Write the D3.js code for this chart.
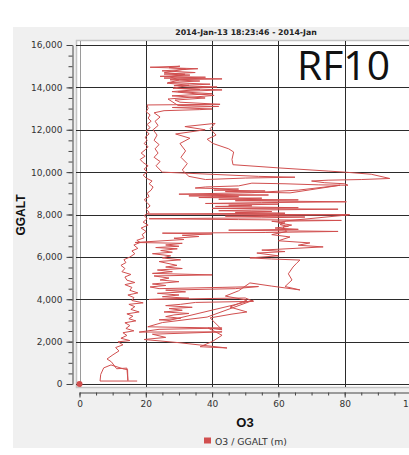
<!DOCTYPE html>
<html>
<head>
<meta charset="utf-8">
<script src="https://cdn.jsdelivr.net/npm/d3@7"></script>
<style>
	body { margin: 0; background: #fff; }
	svg { display: block; }
</style>
</head>
<body>
<div id="chart"></div>
<script>
//Flight legs, each point is [O3, GGALT (m)]

	//Takeoff and climb on the left edge
	var climbLow = [[17.4,140],[6.2,140],[6.4,450],[7.3,760],[9.5,900],[13.5,700],[14.5,680],[14.6,160],[14.3,750],[11.2,720],[9.6,1050],[8.3,1180],[10.1,1380],[11.9,1560],[10.9,1720],[13.1,1850],[11.6,1990],[15.2,2050],[12.5,2160],[14.3,2290],[13.1,2420],[16.4,2510],[14.0,2620],[15.2,2760],[13.7,2890],[17.0,2980],[14.9,3080],[16.1,3200],[14.3,3310],[18.0,3400],[15.5,3520],[16.7,3650],[14.9,3760],[19.2,3830],[15.8,3940],[16.4,4080],[14.6,4200],[17.6,4300],[15.2,4420],[15.8,4560],[13.7,4690],[16.7,4790],[14.3,4900],[13.7,5050],[15.5,5170],[12.8,5300],[13.7,5450],[12.5,5600],[14.0,5730],[13.4,5870],[15.2,5990]];

	var climbHigh = [[16.7,6150],[15.8,6280],[17.6,6400],[16.4,6560],[18.3,6680],[17.3,6780],[19.5,6900],[18.9,7050],[20.1,7200],[18.6,7360],[20.7,7500],[19.2,7640],[20.4,7800],[19.5,7950],[21.0,8100],[20.1,8250],[21.3,8400],[20.4,8560],[19.5,8700],[21.0,8850],[20.4,9000],[21.6,9150],[22.2,9300],[21.0,9450],[21.9,9580],[20.1,9720],[19.2,9860],[20.4,10000],[19.5,10150],[20.7,10300],[19.2,10450],[18.3,10600],[19.8,10750],[18.6,10900],[19.8,11050],[20.7,11200],[19.5,11350],[20.4,11500],[19.8,11650],[21.0,11800],[20.1,11950],[21.3,12100],[20.4,12250],[21.6,12400],[20.7,12550],[21.3,12700],[20.1,12850],[20.7,13000],[20.4,13170],[42.4,13200],[30.3,13300]];

	//Top of the flight
	var topCluster = [[28.8,13400],[37.9,13500],[27.9,13600],[40.0,13700],[29.7,13800],[43.0,13880],[30.3,13950],[41.5,14020],[28.5,14080],[39.4,14150],[26.7,14230],[36.3,14300],[27.3,14360],[43.0,14400],[25.5,14440],[38.0,14480],[24.3,14520],[33.3,14580],[25.5,14630],[34.9,14700],[24.9,14780],[35.7,14880],[21.3,14950],[30.3,15000],[27.0,14930],[32.0,14870]];

	var upperDescent = [[25.6,14700],[31.8,14620],[27.3,14500],[30.0,14350],[26.4,14200],[33.0,14100],[28.2,13960],[36.3,13900],[27.9,13800],[40.6,13620],[26.7,13450],[29.7,13150],[42.0,13100],[28.0,13050],[40.0,12980],[36.3,12950],[25.5,12900],[22.5,12800],[24.3,12600],[22.8,12400],[23.7,12200],[22.2,12000],[23.4,11750],[22.5,11500],[24.0,11300],[22.8,11100],[23.7,10900],[22.5,10700],[24.3,10500],[23.1,10300],[24.0,10150],[25.0,10000],[54.0,9800],[65.0,9760],[50.0,9720],[38.0,9650],[33.0,9800],[31.0,10100],[32.5,10400],[30.6,10700],[32.0,11000],[30.3,11350],[33.3,11600],[29.0,11800],[37.9,12000],[31.8,12150],[40.9,12300],[39.4,12050],[41.2,11750],[38.5,11550],[40.3,11350],[45.0,11100],[46.5,10950],[46.0,10600],[46.3,10350],[60.0,10200],[75.0,10050],[80.0,10000],[88.0,9900],[93.6,9700],[85.0,9650],[75.0,9620],[70.0,9580],[74.0,9500],[80.0,9450],[81.0,9380],[72.0,9400],[62.0,9450],[52.0,9480],[48.0,9350],[38.0,9300],[34.9,9250]];

	//Dense band between 7,000 and 9,300 m
	var midBand = [[48.0,9200],[40.5,9150],[56.0,9110],[44.0,9080],[63.5,9020],[78.6,9380],[66.0,9150],[52.0,9030],[30.0,8960],[57.0,8920],[33.0,8880],[48.0,8840],[36.0,8800],[55.0,8770],[42.0,8720],[66.0,8690],[47.0,8650],[80.5,8600],[55.0,8560],[38.0,8520],[60.0,8490],[45.0,8440],[52.0,8410],[41.0,8380],[66.0,8320],[40.0,8290],[78.0,8250],[52.0,8210],[42.0,8180],[58.0,8140],[47.0,8100],[62.0,8060],[20.5,8020],[81.5,7990],[60.0,7960],[44.0,7920],[68.0,7880],[55.0,7840],[21.0,7800],[48.0,7760],[79.0,7720],[58.0,7680],[62.0,7600],[60.5,7520],[63.0,7440],[59.0,7360],[66.0,7300],[45.0,7260],[78.0,7200],[56.0,7150],[25.0,7120],[40.0,7080],[31.0,7020],[36.0,6960]];

	var lowerCenter = [[28.5,6880],[31.5,6820],[16.8,6680],[31.0,6640],[26.0,6560],[30.0,6500],[23.0,6440],[29.5,6380],[24.5,6300],[28.0,6220],[22.0,6150],[27.5,6050],[25.0,5950],[30.5,5860],[24.0,5780],[29.4,5600],[26.0,5520],[31.0,5450],[23.5,5380],[28.0,5300],[22.0,5220],[40.0,5150],[22.5,5100],[27.0,5000],[24.3,4910],[30.0,4830],[22.0,4720],[26.0,4650],[21.3,4580],[24.0,4500],[43.0,4560],[54.0,4600],[47.0,4500],[26.0,4430],[32.0,4350],[23.5,4280],[30.0,4200],[25.0,4120],[33.0,4050],[21.0,3990],[50.0,4060],[52.5,3900],[35.0,3850],[30.5,3760],[26.0,3700],[34.0,3620],[27.0,3560],[31.0,3480],[25.5,3400],[33.0,3330],[28.5,3260],[26.0,3180],[30.5,3100],[24.0,3030],[27.0,3000],[52.4,3950],[38.5,3160],[25.0,2900],[20.6,2700],[43.0,2640],[24.0,2580],[18.0,2450],[43.0,2460],[22.0,2350],[26.0,2200],[19.5,2100],[30.0,1950],[44.5,1700]];

	//Right hand chain, 1,700 up to 8,000 m
	var rightChain = [[36.4,1760],[40.0,2000],[43.0,2300],[38.8,2640],[43.0,2560],[39.4,3120],[46.0,3300],[50.5,3400],[45.4,3630],[48.0,3800],[50.5,3960],[44.0,4150],[48.0,4400],[51.4,4770],[58.0,4620],[66.5,4440],[62.0,4600],[64.1,4910],[63.0,5200],[64.4,5520],[65.5,5700],[66.5,5850],[58.0,5900],[51.4,5950],[60.0,6050],[53.5,6180],[62.0,6250],[55.0,6320],[73.5,6470],[66.0,6550],[69.5,6660],[60.0,6760],[63.5,6940],[58.0,7050],[62.5,7200],[61.4,7410],[64.0,7500],[60.0,7600],[62.5,7700],[81.0,7980]];

	//Ticks
	var xTicks = [0, 20, 40, 60, 80, 100];
	var xMinor = d3.range(0, 101, 5);
	var yTicks = [0, 2000, 4000, 6000, 8000, 10000, 12000, 14000, 16000];
	var yMinor = d3.range(0, 16001, 500);

	var titleText = "2014-Jan-13 18:23:46 - 2014-Jan";
	var flightLabel = "RF10";

//Canvas
	var w = 409, h = 455;
	var plot = {left: 76, top: 40, right: 409, bottom: 387};
	var red = "#d14f4f";
	var font = "'DejaVu Sans', Verdana, sans-serif";

	var xScale = d3.scaleLinear().domain([0, 100]).range([79.5, 411]);
	var yScale = d3.scaleLinear().domain([0, 16000]).range([384, 45]);

	var svg = d3.select("#chart").append("svg")
		.attr("width", w)
		.attr("height", h);

	//Gray panel
	svg.append("rect")
		.attr("x", 13).attr("y", 27)
		.attr("width", w - 13).attr("height", 421)
		.attr("fill", "#f0f0f0");

	//Plot area
	svg.append("rect")
		.attr("x", plot.left + 0.5).attr("y", plot.top + 0.5)
		.attr("width", 360).attr("height", plot.bottom - plot.top)
		.attr("fill", "#fff")
		.attr("stroke", "#c4c4c4")
		.attr("stroke-width", 1.5);

	//Grid
	var grid = svg.append("g");
	grid.selectAll(".gx").data(xTicks).enter().append("line")
		.attr("x1", function(d) { return Math.round(xScale(d)) + 0.5; })
		.attr("x2", function(d) { return Math.round(xScale(d)) + 0.5; })
		.attr("y1", plot.top + 1).attr("y2", plot.bottom)
		.attr("stroke", function(d) { return d === 0 ? "#9a9a9a" : "#2b2b2b"; });
	grid.selectAll(".gy").data(yTicks).enter().append("line")
		.attr("x1", plot.left).attr("x2", plot.right)
		.attr("y1", function(d) { return Math.round(yScale(d)) + 0.5; })
		.attr("y2", function(d) { return Math.round(yScale(d)) + 0.5; })
		.attr("stroke", "#2b2b2b");

	//Data line
	svg.append("clipPath").attr("id", "clip")
		.append("rect")
		.attr("x", plot.left).attr("y", plot.top)
		.attr("width", plot.right - plot.left).attr("height", plot.bottom - plot.top);

	var flight = [].concat(climbLow, climbHigh, topCluster, upperDescent, midBand, lowerCenter, rightChain);

	var o3Line = d3.line()
		.x(function(d) { return xScale(d[0]); })
		.y(function(d) { return yScale(d[1]); });

	svg.append("path")
		.datum(flight)
		.attr("clip-path", "url(#clip)")
		.attr("d", o3Line)
		.attr("fill", "none")
		.attr("stroke", red)
		.attr("stroke-width", 1)
		.attr("stroke-linejoin", "round");

	//Origin marker
	svg.append("circle")
		.attr("cx", xScale(0)).attr("cy", yScale(0))
		.attr("r", 3)
		.attr("fill", red);

	//Flight label
	svg.append("text")
		.attr("x", 297).attr("y", 80)
		.attr("textLength", 93)
		.attr("lengthAdjust", "spacingAndGlyphs")
		.style("font-family", "'Open Sans', 'Liberation Sans', sans-serif")
		.style("font-size", "41px")
		.attr("fill", "#111")
		.text(flightLabel);

//Axes
	var yAxis = d3.axisLeft(yScale).tickValues(yTicks).tickFormat(d3.format(","))
		.tickSize(6).tickSizeOuter(0).tickPadding(4);
	var yAxisMinor = d3.axisLeft(yScale).tickValues(yMinor).tickFormat("")
		.tickSize(4).tickSizeOuter(0);

	svg.append("g").attr("transform", "translate(72.5,0)").call(yAxis);
	svg.append("g").attr("transform", "translate(72.5,0)").call(yAxisMinor)
		.select(".domain").remove();

	var xAxis = d3.axisBottom(xScale).tickValues(xTicks)
		.tickSize(5).tickSizeOuter(0).tickPadding(3);
	var xAxisMinor = d3.axisBottom(xScale).tickValues(xMinor).tickFormat("")
		.tickSize(3).tickSizeOuter(0);

	svg.append("g").attr("transform", "translate(0,392.5)").call(xAxis);
	svg.append("g").attr("transform", "translate(0,392.5)").call(xAxisMinor)
		.select(".domain").remove();

	svg.selectAll(".domain, .tick line").attr("stroke", "#444");
	svg.selectAll(".tick text")
		.style("font-family", font)
		.style("font-size", "9px")
		.attr("fill", "#333");

	//Titles
	svg.append("text")
		.attr("x", 246).attr("y", 35)
		.attr("text-anchor", "middle")
		.style("font-family", font)
		.style("font-size", "7.8px")
		.style("font-weight", "bold")
		.attr("fill", "#222")
		.text(titleText);

	svg.append("text")
		.attr("transform", "translate(25,215) rotate(-90)")
		.attr("text-anchor", "middle")
		.style("font-family", "'Liberation Sans', Arial, sans-serif")
		.style("font-size", "12px")
		.style("font-weight", "bold")
		.attr("fill", "#111")
		.text("GGALT");

	svg.append("text")
		.attr("x", 245).attr("y", 427)
		.attr("text-anchor", "middle")
		.style("font-family", "'Liberation Sans', Arial, sans-serif")
		.style("font-size", "13px")
		.style("font-weight", "bold")
		.attr("fill", "#111")
		.text("O3");

	//Legend
	svg.append("rect")
		.attr("x", 204).attr("y", 437.5)
		.attr("width", 7).attr("height", 6)
		.attr("fill", red);
	svg.append("text")
		.attr("x", 215).attr("y", 444.5)
		.style("font-family", font)
		.style("font-size", "9.3px")
		.attr("fill", "#333")
		.text("O3 / GGALT (m)");
</script>
</body>
</html>
